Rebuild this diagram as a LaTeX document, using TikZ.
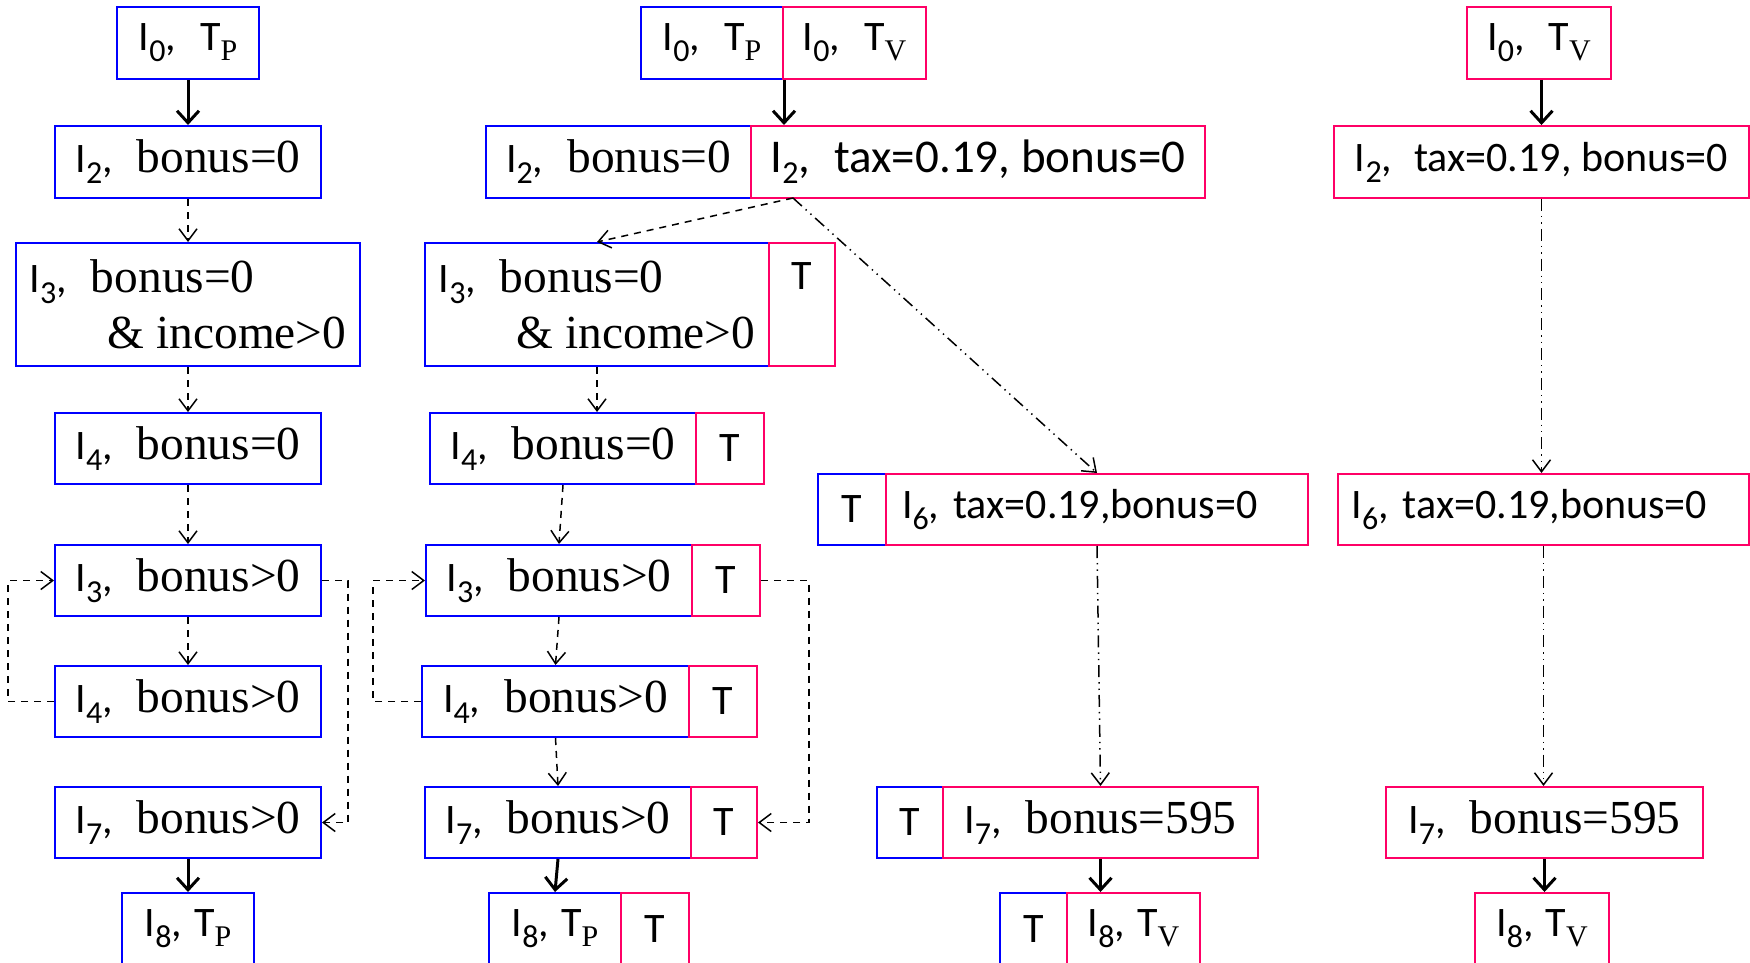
\documentclass[tikz,border=0pt]{standalone}
\usepackage{fontspec}
\setmainfont{Carlito}
\newfontfamily\sr{Liberation Serif}
\usetikzlibrary{arrows.meta}
\definecolor{bl}{RGB}{0,0,255}
\definecolor{rd}{RGB}{255,0,102}
\newcommand\Iv[1]{I\raisebox{-5.5pt}{\fontsize{16}{16}\selectfont #1}}
\newcommand\Sv[1]{\raisebox{-5pt}{\fontsize{15}{15}\sr #1}}
\newcommand\B[1]{{\fontsize{23.7}{28}\sr #1}}
\newcommand\bx[7]{\node[#6, minimum width={(#3-#2)*0.5pt}, minimum height={(#5-#4)*0.5pt}] (#1) at ({(#2+#3)/2},{(#4+#5)/2}) {#7};}
\tikzset{
  bxs/.style={draw, line width=1pt, inner sep=0pt, font=\fontsize{21}{28}\selectfont},
  bb/.style={bxs, draw=bl},
  rb/.style={bxs, draw=rd},
  solidarr/.style={line width=1.5pt, -{Straight Barb[length=6pt,width=11pt]}},
  dasharr/.style={line width=0.75pt, dash pattern=on 3.5pt off 3pt, -{Straight Barb[length=6pt,width=9pt]}},
  ddarr/.style={line width=0.75pt, dash pattern=on 6pt off 2.5pt on 0.7pt off 2.5pt on 0.7pt off 2.5pt, -{Straight Barb[length=6pt,width=9pt]}}
}
\begin{document}
\begin{tikzpicture}[x=0.5pt,y=-0.5pt]
\useasboundingbox (0,0) rectangle (1750,963);
\clip (0,0) rectangle (1750,963);
% left column
\bx{L0}{117}{259}{7}{79}{bb}{\Iv0,\hspace{12pt}T\Sv{P}}
\bx{L2}{55}{321}{126}{198}{bb}{\Iv2,\hspace{12pt}\B{bonus=0}}
\bx{L3}{16}{360}{243}{366}{bb,align=left}{\Iv3,\hspace{12pt}\B{bonus=0}\\\hspace*{39pt}\B{\& income>0}}
\bx{L4a}{55}{321}{413}{484}{bb}{\Iv4,\hspace{12pt}\B{bonus=0}}
\bx{L3b}{55}{321}{545}{616}{bb}{\Iv3,\hspace{12pt}\B{bonus>0}}
\bx{L4b}{55}{321}{666}{737}{bb}{\Iv4,\hspace{12pt}\B{bonus>0}}
\bx{L7}{55}{321}{787}{858}{bb}{\Iv7,\hspace{12pt}\B{bonus>0}}
\bx{L8}{122}{254}{893}{965}{bb}{\Iv8,\hspace{6pt}T\Sv{P}}
% middle column
\bx{M0}{641}{783}{7}{79}{bb}{\Iv0,\hspace{12pt}T\Sv{P}}
\bx{M0r}{783}{926}{7}{79}{rb}{\Iv0,\hspace{12pt}T\Sv{V}}
\bx{M2}{486}{751}{126}{198}{bb}{\Iv2,\hspace{12pt}\B{bonus=0}}
\bx{M2r}{751}{1205}{126}{198}{rb,font=\fontsize{23.5}{28}\selectfont}{\Iv2,\hspace{12pt}tax=0.19, bonus=0}
\bx{M3}{425}{769}{243}{366}{bb,align=left}{\Iv3,\hspace{12pt}\B{bonus=0}\\\hspace*{39pt}\B{\& income>0}}
\bx{M3r}{769}{835}{243}{366}{rb,align=center}{T\\\phantom{T}}
\bx{M4a}{430}{696}{413}{484}{bb}{\Iv4,\hspace{12pt}\B{bonus=0}}
\bx{M4ar}{696}{764}{413}{484}{rb}{T}
\bx{M3b}{426}{692}{545}{616}{bb}{\Iv3,\hspace{12pt}\B{bonus>0}}
\bx{M3br}{692}{760}{545}{616}{rb}{T}
\bx{M4b}{422}{689}{666}{737}{bb}{\Iv4,\hspace{12pt}\B{bonus>0}}
\bx{M4br}{689}{757}{666}{737}{rb}{T}
\bx{M7}{425}{691}{787}{858}{bb}{\Iv7,\hspace{12pt}\B{bonus>0}}
\bx{M7r}{691}{757}{787}{858}{rb}{T}
\bx{M8}{489}{621}{893}{965}{bb}{\Iv8,\hspace{6pt}T\Sv{P}}
\bx{M8r}{621}{689}{893}{965}{rb}{T}
% third column
\bx{N6b}{818}{886}{474}{545}{bb}{T}
\bx{N6}{886}{1308}{474}{545}{rb,text width=195pt,align=left}{\Iv6, tax=0.19,bonus=0}
\bx{N7b}{877}{943}{787}{858}{bb}{T}
\bx{N7}{943}{1258}{787}{858}{rb}{\Iv7,\hspace{12pt}\B{bonus=595}}
\bx{N8b}{1000}{1067}{893}{965}{bb}{T}
\bx{N8}{1067}{1200}{893}{965}{rb}{\Iv8,\hspace{6pt}T\Sv{V}}
% right column
\bx{R0}{1467}{1611}{7}{79}{rb}{\Iv0,\hspace{12pt}T\Sv{V}}
\bx{R2}{1334}{1749}{126}{198}{rb}{\Iv2,\hspace{11pt}tax=0.19, bonus=0}
\bx{R6}{1338}{1749}{474}{545}{rb,text width=192pt,align=left}{\Iv6, tax=0.19,bonus=0}
\bx{R7}{1386}{1703}{787}{858}{rb}{\Iv7,\hspace{12pt}\B{bonus=595}}
\bx{R8}{1475}{1609}{893}{965}{rb}{\Iv8,\hspace{6pt}T\Sv{V}}
% left connectors
\draw[solidarr] (L0.south) -- (L2.north);
\draw[dasharr] (L2.south) -- (L3.north);
\draw[dasharr] (L3.south) -- (L4a.north);
\draw[dasharr] (L4a.south) -- (L3b.north);
\draw[dasharr] (L3b.south) -- (L4b.north);
\draw[solidarr] (L7.south) -- (L8.north);
\draw[dasharr] (L4b.west) -- ++(-46,0) |- (L3b.west);
\draw[dasharr] (L3b.east) -- ++(26,0) |- (L7.east);
% middle connectors
\draw[solidarr] (M0.south east) -- (M0.south east |- M2r.north);
\coordinate (sp) at (793,198);
\draw[dasharr] (sp) -- (M3.north);
\draw[ddarr] (sp) -- (N6.north);
\draw[dasharr] (M3.south) -- (M3.south |- M4a.north);
\draw[dasharr] (M4a.south) -- (M3b.north);
\draw[dasharr] (M3b.south) -- (M4b.north);
\draw[dasharr] (M4b.south) -- (M7.north);
\draw[solidarr] (M7.south) -- (M8.north);
\draw[dasharr] (M4b.west) -- ++(-48,0) |- (M3b.west);
\draw[dasharr] (M3br.east) -- ++(48,0) |- (M7r.east);
% third column connectors
\draw[ddarr] (N6.south) -- (N7.north);
\draw[solidarr] (N7.south) -- (N7.south |- N8.north);
% right connectors
\draw[solidarr] (R2.north |- R0.south) -- (R2.north);
\draw[ddarr] (R2.south) -- (R2.south |- R6.north);
\draw[ddarr] (R6.south) -- (R6.south |- R7.north);
\draw[solidarr] (R7.south) -- (R7.south |- R8.north);
\end{tikzpicture}
\end{document}
